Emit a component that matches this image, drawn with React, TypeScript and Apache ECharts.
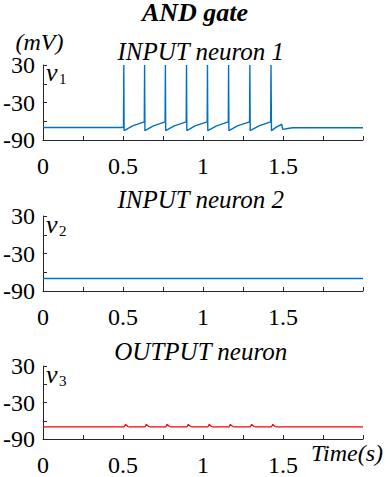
import React, { useEffect, useRef } from "react";
import * as echarts from "echarts";

// Time (s) and membrane potential (mV) points
const neuron1: [number, number][] = [
  [0, -70], [0.5, -70], [0.503, -68], [0.505, 30], [0.507, -75],
  [0.56, -67.5], [0.633, -61], [0.635, 30], [0.637, -75],
  [0.69, -67.5], [0.763, -61], [0.765, 30], [0.767, -75],
  [0.82, -67.5], [0.895, -61], [0.897, 30], [0.899, -75],
  [0.95, -67.5], [1.026, -61], [1.028, 30], [1.03, -75],
  [1.085, -67.5], [1.158, -61], [1.16, 30], [1.162, -75],
  [1.215, -67.5], [1.291, -61], [1.293, 30], [1.295, -75],
  [1.35, -67.5], [1.423, -61], [1.425, 30], [1.428, -75],
  [1.46, -69], [1.485, -66], [1.492, -64.5], [1.498, -73],
  [1.53, -71.5], [1.56, -70.3], [2, -70.3],
];
const neuron2: [number, number][] = [[0, -70], [2, -70]];
const outputNeuron: [number, number][] = [
  [0, -70], [0.508, -70], [0.516, -66], [0.53, -69.5], [0.54, -70],
  [0.638, -70], [0.646, -66], [0.66, -69.5], [0.67, -70],
  [0.768, -70], [0.776, -66], [0.79, -69.5], [0.8, -70],
  [0.9, -70], [0.908, -66], [0.922, -69.5], [0.932, -70],
  [1.031, -70], [1.039, -66], [1.053, -69.5], [1.063, -70],
  [1.163, -70], [1.171, -66], [1.185, -69.5], [1.195, -70],
  [1.296, -70], [1.304, -66], [1.318, -69.5], [1.328, -70],
  [1.428, -70], [1.436, -66], [1.45, -69.5], [1.46, -70],
  [2, -70],
];
const xTickLabels = [0, 0.5, 1, 1.5];
const yTickLabels = [30, -30, -90];
const panelTitles = ["INPUT neuron 1", "INPUT neuron 2", "OUTPUT neuron"];
const varNames = ["1", "2", "3"];

const FONT = "Liberation Serif";
const AX = "#262626";

function measure(text: string, font: string): number {
  try {
    const c = document.createElement("canvas").getContext("2d");
    if (!c) return text.length * 12;
    c.font = font;
    return c.measureText(text).width;
  } catch (e) {
    return text.length * 12;
  }
}

export default function App() {
  const ref = useRef<HTMLDivElement>(null);
  useEffect(() => {
    if (!ref.current) return;
    const chart = echarts.init(ref.current, undefined, { renderer: "svg" });
    const grids = [
      { left: 43, top: 65, width: 320, height: 75 },
      { left: 43, top: 216, width: 320, height: 75 },
      { left: 43, top: 366, width: 320, height: 76 },
    ];
    const xAxes = grids.map((_, i) => ({
      type: "value",
      gridIndex: i,
      min: 0,
      max: 2,
      interval: 0.25,
      axisLine: { show: true, onZero: false, lineStyle: { color: AX, width: 1 } },
      axisTick: { show: true, inside: true, length: 4, lineStyle: { color: AX } },
      splitLine: { show: false },
      axisLabel: {
        margin: 14,
        fontFamily: FONT,
        fontSize: 24,
        color: "#000",
        formatter: (v: number) =>
          xTickLabels.some((t) => Math.abs(t - v) < 1e-9) ? String(v) : "",
      },
    }));
    const yAxes = grids.map((_, i) => ({
      type: "value",
      gridIndex: i,
      min: -90,
      max: 30,
      interval: 30,
      axisLine: { show: true, onZero: false, lineStyle: { color: AX, width: 1 } },
      axisTick: { show: true, inside: true, length: 4, lineStyle: { color: AX } },
      splitLine: { show: false },
      axisLabel: {
        margin: 8,
        fontFamily: FONT,
        fontSize: 24,
        color: "#000",
        formatter: (v: number) => (yTickLabels.includes(v) ? String(v) : ""),
      },
    }));
    // graphic text placed by its top-left corner (default alignment)
    const gtext = (text: string, x: number, y: number, size: number, italic: boolean, bold = false) => {
      const style: any = { text, fontFamily: FONT, fontSize: size, fill: "#000" };
      if (italic) style.fontStyle = "italic";
      if (bold) style.fontWeight = "bold";
      return { type: "text", x, y, style };
    };
    const centered = (text: string, cx: number, y: number, size: number, italic: boolean, bold = false) => {
      const w = measure(text, `${italic ? "italic " : ""}${bold ? "bold " : ""}${size}px ${FONT}`);
      return gtext(text, cx - w / 2, y, size, italic, bold);
    };
    const graphics: any[] = [
      centered("AND gate", 195, -1, 26, true, true),
      centered("(mV)", 39.5, 30, 24, true),
      gtext("Time(s)", 311, 441, 24, true),
    ];
    const titleTop = [39, 187, 339];
    const vTop = [59, 211, 361];
    panelTitles.forEach((t, i) => {
      graphics.push(centered(t, 201, titleTop[i], 25, true));
      graphics.push(gtext("v", 46, vTop[i], 26, true));
      graphics.push(gtext(varNames[i], 59, vTop[i] + 12, 15, false));
    });
    chart.setOption({
      animation: false,
      grid: grids,
      xAxis: xAxes,
      yAxis: yAxes,
      graphic: graphics,
      series: [
        { type: "line", xAxisIndex: 0, yAxisIndex: 0, data: neuron1, showSymbol: false, lineStyle: { color: "#0072BD", width: 1.4 } },
        { type: "line", xAxisIndex: 1, yAxisIndex: 1, data: neuron2, showSymbol: false, lineStyle: { color: "#0072BD", width: 1.4 } },
        { type: "line", xAxisIndex: 2, yAxisIndex: 2, data: outputNeuron, showSymbol: false, lineStyle: { color: "#FF0000", width: 1.2 } },
      ],
    });
    return () => chart.dispose();
  }, []);
  return <div ref={ref} style={{ position: "absolute", left: 0, top: 0, width: 390, height: 477 }} />;
}
